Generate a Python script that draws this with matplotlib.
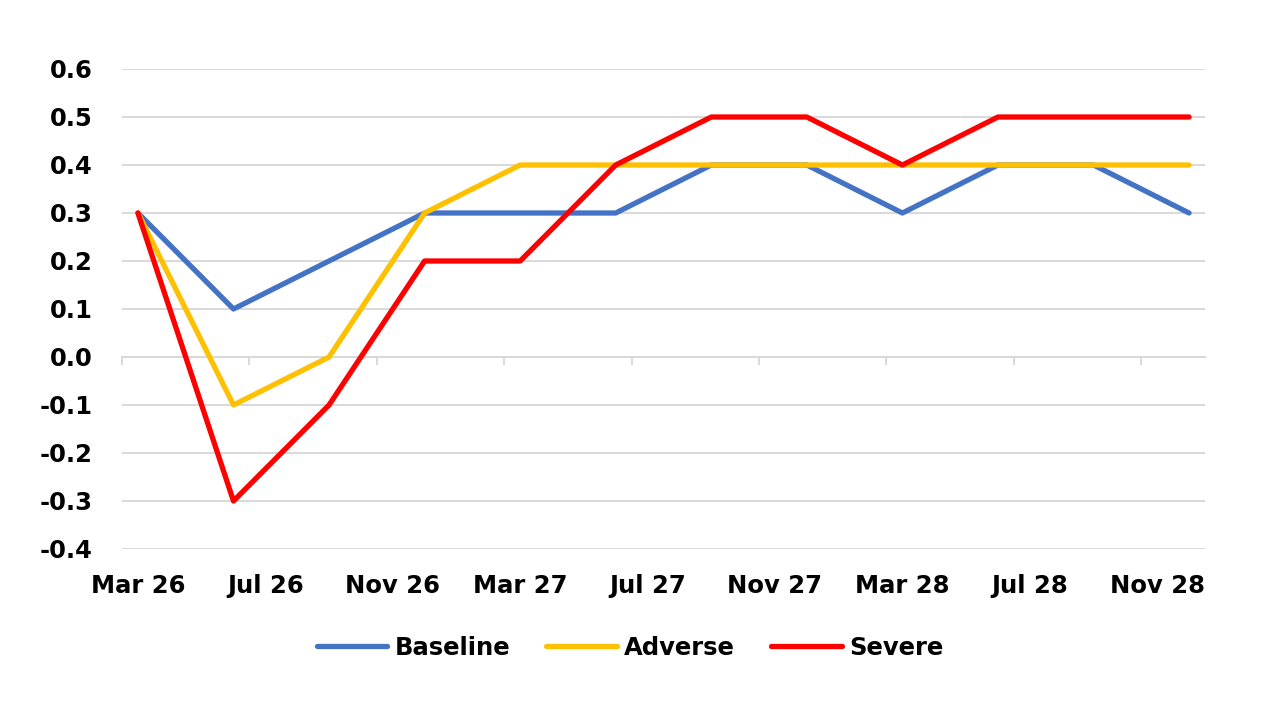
import pandas as pd
import numpy as np
import matplotlib.pyplot as plt

# quarterly observation dates
dates = ['2026-03', '2026-06', '2026-09', '2026-12',
         '2027-03', '2027-06', '2027-09', '2027-12',
         '2028-03', '2028-06', '2028-09', '2028-12']
baseline = [0.3, 0.1, 0.2, 0.3, 0.3, 0.3, 0.4, 0.4, 0.3, 0.4, 0.4, 0.3]
adverse = [0.3, -0.1, 0.0, 0.3, 0.4, 0.4, 0.4, 0.4, 0.4, 0.4, 0.4, 0.4]
severe = [0.3, -0.3, -0.1, 0.2, 0.2, 0.4, 0.5, 0.5, 0.4, 0.5, 0.5, 0.5]

tick_labels = ['Mar 26', 'Jul 26', 'Nov 26', 'Mar 27', 'Jul 27',
               'Nov 27', 'Mar 28', 'Jul 28', 'Nov 28']
y_ticks = [-0.4, -0.3, -0.2, -0.1, 0.0, 0.1, 0.2, 0.3, 0.4, 0.5, 0.6]

# months since Mar 2026 (Excel style date axis, one slot per month)
d = pd.to_datetime(dates)
x = (d.year - 2026) * 12 + d.month - 3
n_months = 34

plt.rcParams['font.family'] = 'DejaVu Sans'
plt.rcParams['font.weight'] = 'bold'
fs = 17.5

fig = plt.figure(figsize=(12.8, 7.2), dpi=100)
ax = fig.add_axes([122 / 1280, 1 - 549 / 720, (1205 - 122) / 1280, (549 - 69) / 720])

grid_col = '#D9D9D9'
lw = 3.8
ax.plot(x, baseline, color='#4472C4', lw=lw, label='Baseline', solid_capstyle='round', zorder=3)
ax.plot(x, adverse, color='#FFC000', lw=lw, label='Adverse', solid_capstyle='round', zorder=3)
ax.plot(x, severe, color='#FF0000', lw=lw, label='Severe', solid_capstyle='round', zorder=3)

ax.set_xlim(-0.5, n_months - 0.5)
ax.set_ylim(-0.4, 0.6)
ax.set_yticks(y_ticks)
ax.set_yticklabels([f'{v:.1f}' for v in y_ticks], fontsize=fs, fontweight='bold')
ax.tick_params(axis='y', length=0, pad=21)
ax.yaxis.grid(True, color=grid_col, lw=1.4)
ax.set_axisbelow(True)

for s in ['top', 'right', 'left']:
    ax.spines[s].set_visible(False)
ax.spines['bottom'].set_position(('data', 0))
ax.spines['bottom'].set_color(grid_col)
ax.spines['bottom'].set_linewidth(1.4)
ax.set_xticks(np.arange(-0.5, n_months - 1, 4))
ax.tick_params(axis='x', direction='out', length=6, width=1.4, color=grid_col, labelbottom=False)

sec = ax.secondary_xaxis('bottom')
sec.set_xticks(np.arange(0, n_months, 4))
sec.set_xticklabels(tick_labels, fontsize=fs, fontweight='bold')
sec.tick_params(length=0, pad=18)
sec.spines['bottom'].set_visible(False)

fig.legend(loc='center', bbox_to_anchor=(630 / 1280, 1 - 648 / 720), ncol=3, frameon=False,
           prop={'size': fs, 'weight': 'bold'}, handlelength=2.9, handletextpad=0.3,
           columnspacing=1.5)

fig.savefig('out.png', dpi=100, facecolor='white')
